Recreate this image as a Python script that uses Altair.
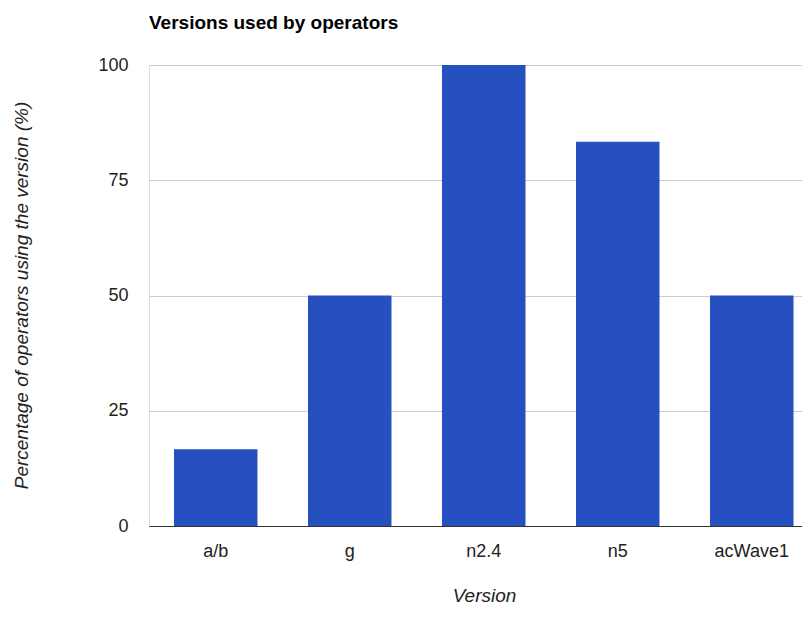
import altair as alt
import pandas as pd

versions = ["a/b", "g", "n2.4", "n5", "acWave1"]
percent = [16.67, 50, 100, 83.33, 50]
y_ticks = [0, 25, 50, 75, 100]

df = pd.DataFrame({"Version": versions, "Percent": percent})

FONT = "Liberation Sans"

chart = (
    alt.Chart(df, title=alt.TitleParams(
        "Versions used by operators",
        anchor="start", frame="group", fontSize=19, fontWeight="bold",
        font=FONT, color="#000000", offset=23))
    .mark_bar(color="#264fbf")
    .encode(
        x=alt.X("Version:N", sort=versions,
                scale=alt.Scale(paddingInner=0.377, paddingOuter=0.125, align=0.746),
                axis=alt.Axis(title="Version", labelAngle=0, labelFontSize=18,
                              labelFont=FONT, labelColor="#222222", labelPadding=16,
                              ticks=False, tickSize=0, grid=False,
                              domainColor="#333333", domainWidth=1.2,
                              titleFont=FONT, titleFontSize=19, titleFontStyle="italic",
                              titleFontWeight="normal", titleColor="#222222",
                              titleX=335, titleY=75, titleBaseline="alphabetic",
                              titleAlign="center")),
        y=alt.Y("Percent:Q",
                scale=alt.Scale(domain=[0, 100], nice=False),
                axis=alt.Axis(title="Percentage of operators using the version (%)",
                              values=y_ticks, labelFontSize=18, labelFont=FONT,
                              labelColor="#222222", labelPadding=21,
                              ticks=False, tickSize=0, domain=False,
                              gridColor="#cccccc", gridWidth=1,
                              titleFont=FONT, titleFontSize=19, titleFontStyle="italic",
                              titleFontWeight="normal", titleColor="#222222",
                              titleX=-122, titleY=230, titleAngle=270,
                              titleBaseline="alphabetic", titleAlign="center")),
    )
    .properties(width=653, height=461,
                autosize=alt.AutoSizeParams(type="none"),
                padding={"left": 141, "top": 57, "right": 0, "bottom": 81})
    .configure_view(strokeWidth=0)
    .configure(background="white")
)

chart.save("out.html", embed_options={"renderer": "svg", "actions": False})
